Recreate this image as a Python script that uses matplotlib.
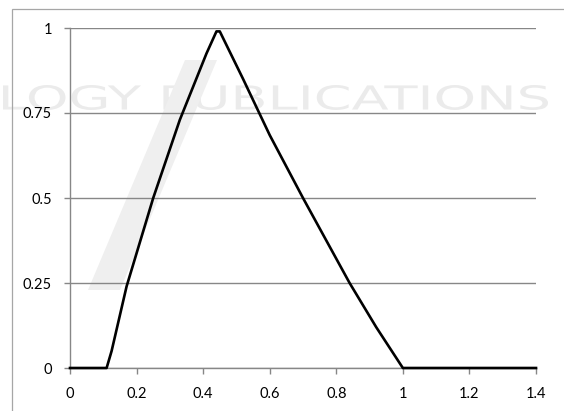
import matplotlib
matplotlib.use("Agg")
import matplotlib.pyplot as plt
from matplotlib.patches import Rectangle, Polygon, PathPatch
from matplotlib.textpath import TextPath
from matplotlib.font_manager import FontProperties
from matplotlib.transforms import Affine2D

# ---------------------------------------------------------------------------
# Data
# ---------------------------------------------------------------------------
x_vals = [0.0, 0.11, 0.125, 0.17, 0.25, 0.33, 0.41, 0.44, 0.45,
          0.52, 0.60, 0.70, 0.84, 0.92, 1.0, 1.4]
y_vals = [0.0, 0.0, 0.05, 0.24, 0.5, 0.73, 0.925, 0.99, 0.99,
          0.85, 0.685, 0.5, 0.25, 0.12, 0.0, 0.0]

x_ticks = [0, 0.2, 0.4, 0.6, 0.8, 1, 1.2, 1.4]
x_tick_labels = ["0", "0.2", "0.4", "0.6", "0.8", "1", "1.2", "1.4"]
y_ticks = [0, 0.25, 0.5, 0.75, 1]
y_tick_labels = ["0", "0.25", "0.5", "0.75", "1"]

GRID = "#878787"
WM = "#ebebeb"
FONT = "Lato"

W, H = 564, 411

# ---------------------------------------------------------------------------
# Plot
# ---------------------------------------------------------------------------
fig = plt.figure(figsize=(W / 100, H / 100), dpi=100, facecolor="white")

# --- faint publisher watermark (pixel coords, y from bottom) ---
wm_path = TextPath((0, 0), "LOGY PUBLICATIONS", size=34,
                   prop=FontProperties(family="DejaVu Sans", weight="normal"))
ext = wm_path.get_extents()
sx = (548 - 3) / ext.width
sy = 25 / ext.height
wm_tr = Affine2D().translate(-ext.x0, -ext.y0).scale(sx, sy).translate(3, H - 110)
fig.patches.append(PathPatch(wm_path, transform=wm_tr, facecolor=WM,
                             edgecolor="none", zorder=-2))
# diagonal logo stroke
fig.patches.append(Polygon([(88, H - 290), (120, H - 290), (217, H - 60), (185, H - 60)],
                           closed=True, transform=None, facecolor="#efefef",
                           edgecolor="none", zorder=-2))

# outer chart frame (runs off the right and bottom edges)
fig.patches.append(Rectangle((12 / W, -0.1), 1.2, 1 - 9 / H + 0.1,
                             transform=fig.transFigure, fill=False,
                             edgecolor="#a6a6a6", linewidth=0.9, zorder=-1))

ax = fig.add_axes([70 / W, 1 - 368 / H, 466 / W, 340 / H])
ax.patch.set_alpha(0)

ax.plot(x_vals, y_vals, color="black", linewidth=1.9, clip_on=False, zorder=3)

ax.set_xlim(0, 1.4)
ax.set_ylim(0, 1)
ax.set_xticks(x_ticks)
ax.set_xticklabels(x_tick_labels)
ax.set_yticks(y_ticks)
ax.set_yticklabels(y_tick_labels)

ax.yaxis.grid(True, color=GRID, linewidth=1.0)
ax.set_axisbelow(True)

for side in ["top", "right"]:
    ax.spines[side].set_visible(False)
for side in ["left", "bottom"]:
    ax.spines[side].set_color(GRID)
    ax.spines[side].set_linewidth(1.0)

ax.tick_params(axis="x", direction="out", length=4, width=1.0, color=GRID,
               pad=10, labelsize=10.5, labelcolor="black")
ax.tick_params(axis="y", direction="out", length=4, width=1.0, color=GRID,
               pad=9, labelsize=10.5, labelcolor="black")
for lbl in ax.get_xticklabels() + ax.get_yticklabels():
    lbl.set_family(FONT)

fig.savefig("out.png", dpi=100, facecolor="white")
plt.close(fig)
